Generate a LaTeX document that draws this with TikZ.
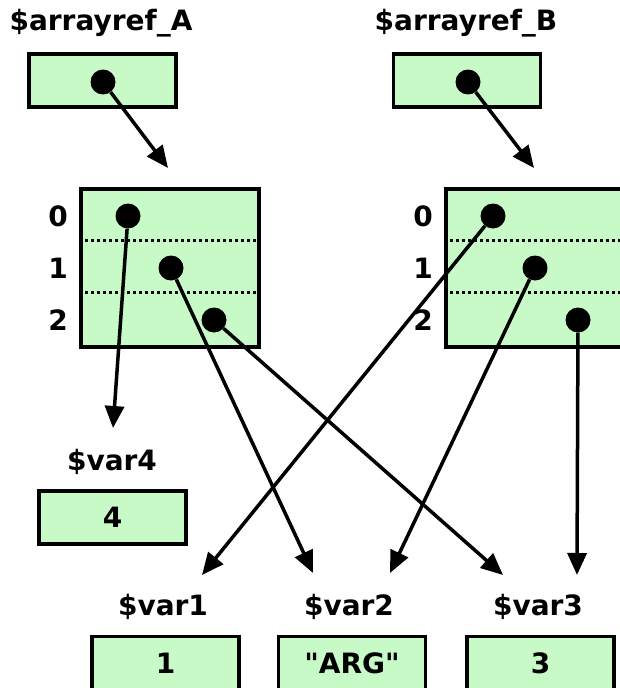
\documentclass[tikz,border=0pt]{standalone}
\usepackage{fontspec}
\setmainfont{DejaVu Sans}[Ligatures=TeXOff]
\usetikzlibrary{arrows.meta}
\definecolor{cellgreen}{RGB}{200,250,200}

\begin{document}
\begin{tikzpicture}[x=1pt,y=-1pt,
		lbl/.style={font=\fontsize{28}{32}\selectfont\bfseries,inner sep=0pt},
		cell/.style={draw=black,line width=3.5pt,fill=cellgreen,minimum width=147pt,minimum height=53pt,inner sep=0pt,font=\fontsize{28}{32}\selectfont\bfseries},
		arr/.style={cell,minimum width=178pt,minimum height=158pt},
		ref/.style={circle,fill=black,minimum size=25pt,inner sep=0pt},
		sep/.style={line width=3pt,dash pattern=on 3pt off 3pt},
		ptr/.style={line width=3.5pt,-{Triangle[length=22pt,width=19pt]}}]
		\clip (0,0) rectangle (620,688);
		% references
		\node[lbl] (nameA) at (101,23) {\$arrayref\_A};
		\node[cell] (refA) at (102.5,80.5) {};
		\node[ref] (pA) at (103,82) {};
		\node[lbl] (nameB) at (466,23) {\$arrayref\_B};
		\node[cell] (refB) at (467,80.5) {};
		\node[ref] (pB) at (468,82) {};
		% arrays
		\node[arr] (arrA) at (170,268) {};
		\draw[sep] ([yshift=-53pt]arrA.north west) -- ([yshift=-53pt]arrA.north east);
		\draw[sep] ([yshift=-105pt]arrA.north west) -- ([yshift=-105pt]arrA.north east);
		\node[arr] (arrB) at (535,268) {};
		\draw[sep] ([yshift=-53pt]arrB.north west) -- ([yshift=-53pt]arrB.north east);
		\draw[sep] ([yshift=-105pt]arrB.north west) -- ([yshift=-105pt]arrB.north east);
		\node[lbl] (iA0) at (58,216) {0};
		\node[lbl] (iA1) at (58,268) {1};
		\node[lbl] (iA2) at (58,320) {2};
		\node[lbl] (iB0) at (423,216) {0};
		\node[lbl] (iB1) at (423,268) {1};
		\node[lbl] (iB2) at (423,320) {2};
		\node[ref] (a0) at (128,216) {};
		\node[ref] (a1) at (171,268) {};
		\node[ref] (a2) at (214,320) {};
		\node[ref] (b0) at (493,216) {};
		\node[ref] (b1) at (535,268) {};
		\node[ref] (b2) at (578,320) {};
		% scalars
		\node[lbl] (name4) at (112,462) {\$var4};
		\node[cell] (var4) at (112.5,517.5) {4};
		\node[lbl] (name1) at (163,607) {\$var1};
		\node[cell] (var1) at (165.5,663) {1};
		\node[lbl] (name2) at (349,607) {\$var2};
		\node[cell] (var2) at (352,663) {"ARG"};
		\node[lbl] (name3) at (538,607) {\$var3};
		\node[cell] (var3) at (540.5,663) {3};
		% arrow ends
		\coordinate (inA) at (168,168);
		\coordinate (inB) at (534,168);
		\coordinate (in4) at (113,428);
		\coordinate (in1) at (202,575);
		\coordinate (in2a) at (313,573);
		\coordinate (in2b) at (390,573);
		\coordinate (in3a) at (503,575);
		\coordinate (in3b) at (577,575);
		\draw[ptr] (pA) -- (inA);
		\draw[ptr] (pB) -- (inB);
		\draw[ptr] (a0) -- (in4);
		\draw[ptr] (a1) -- (in2a);
		\draw[ptr] (a2) -- (in3a);
		\draw[ptr] (b0) -- (in1);
		\draw[ptr] (b1) -- (in2b);
		\draw[ptr] (b2) -- (in3b);
	\end{tikzpicture}
\end{document}
